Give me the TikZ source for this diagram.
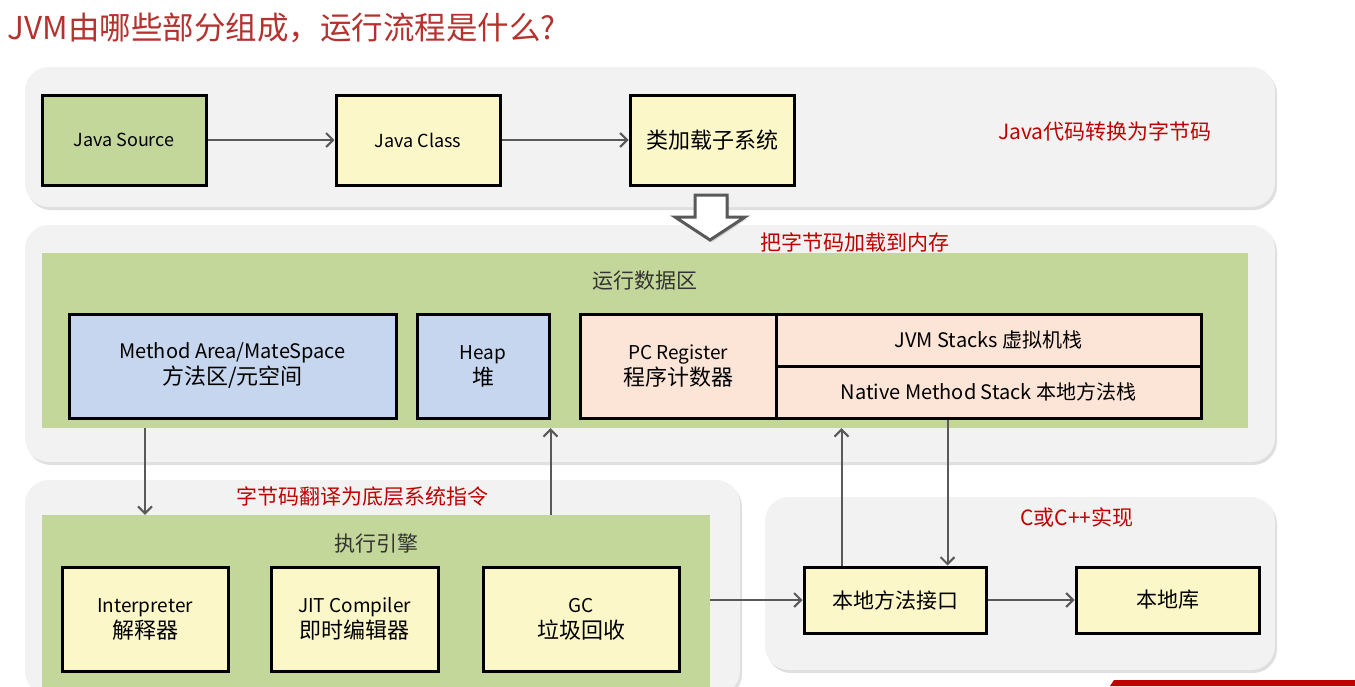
\documentclass[tikz,border=0pt]{standalone}
\usepackage{fontspec}
\setmainfont{Noto Sans CJK SC}
\usetikzlibrary{arrows.meta, positioning, shadows}

\definecolor{titlered}{HTML}{B5322E}
\definecolor{notered}{HTML}{C00000}
\definecolor{panelgray}{HTML}{F2F2F2}
\definecolor{areagreen}{HTML}{C4D79B}
\definecolor{boxyellow}{HTML}{FCF7C8}
\definecolor{boxblue}{HTML}{C6D6EE}
\definecolor{boxpeach}{HTML}{FCE4D6}
\definecolor{linkgray}{HTML}{595959}

% second (Chinese) line of a box
\newcommand{\cnline}[1]{{\fontsize{22}{26}\selectfont #1}}

\begin{document}
\begin{tikzpicture}[
    x=1pt, y=-1pt,
    panel/.style={
        rectangle,
        fill=panelgray,
        rounded corners=24pt,
        inner sep=0pt,
        drop shadow={shadow xshift=2pt, shadow yshift=-3pt, opacity=0.25}
    },
    area/.style={
        rectangle,
        fill=areagreen,
        inner sep=0pt
    },
    unit/.style={
        rectangle,
        draw=black,
        line width=3pt,
        fill=boxyellow,
        inner sep=0pt,
        align=center,
        font=\fontsize{19}{26}\selectfont
    },
    memory/.style={
        unit,
        fill=boxblue,
        minimum height=104pt
    },
    link/.style={
        -{Straight Barb[length=7pt, width=14pt]},
        line width=2pt,
        draw=linkgray
    },
    note/.style={
        text=notered,
        font=\fontsize{21}{24}\selectfont
    },
    caption/.style={
        text=black!80,
        font=\fontsize{21}{24}\selectfont
    }
]
    \clip (0,0) rectangle (1355,686);
    \useasboundingbox[fill=white] (0,0) rectangle (1355,686);

    % TITLE
    \node[anchor=west, text=titlered, font=\fontsize{31.5}{34}\selectfont] (title) at (4,28)
        {JVM由哪些部分组成，运行流程是什么?};

    % PANELS
    \node[panel, minimum width=1250pt, minimum height=140pt] (compile) at (650,137) {};
    \node[panel, minimum width=1250pt, minimum height=237pt] (load) at (650,343.5) {};
    \node[panel, minimum width=715pt, minimum height=215pt] (exec) at (382.5,587.5) {};
    \node[panel, minimum width=510pt, minimum height=173pt] (native) at (1020,583.5) {};

    % SOURCE TO BYTECODE (top row)
    \node[unit, fill=areagreen, minimum width=164pt, minimum height=90pt, font=\fontsize{18}{22}\selectfont]
        (src) at (124,140) {Java Source};
    \node[unit, minimum width=164pt, minimum height=90pt, font=\fontsize{18}{22}\selectfont]
        (cls) [right=127pt of src] {Java Class};
    \node[unit, minimum width=164pt, minimum height=90pt, font=\fontsize{22}{26}\selectfont]
        (loader) [right=127pt of cls] {类加载子系统};
    \node[note] (tobyte) at (1105,131) {Java代码转换为字节码};

    % LOAD INTO MEMORY (hollow arrow)
    \draw[draw=linkgray, line width=3pt, fill=white, line join=miter,
        drop shadow={shadow xshift=2pt, shadow yshift=-2pt, opacity=0.3}]
        (695,195) -- (727,195) -- (727,217) -- (745,217) -- (710,240)
        -- (675,217) -- (695,217) -- cycle;
    \node[note] (tomem) at (855,242) {把字节码加载到内存};

    % RUNTIME DATA AREA
    \node[area, minimum width=1206pt, minimum height=175pt] (runtime) at (645,340.5) {};
    \node[caption] (runtimelabel) at (645,281) {运行数据区};
    \node[memory, minimum width=327pt, font=\fontsize{20}{26}\selectfont] (method) at (232.5,366)
        {Method Area/MateSpace\\\cnline{方法区/元空间}};
    \node[memory, minimum width=132pt] (heap) at (483,366) {Heap\\\cnline{堆}};
    \node[unit, fill=boxpeach, minimum width=196pt, minimum height=104pt] (pc) at (678,366)
        {PC Register\\\cnline{程序计数器}};
    \node[unit, fill=boxpeach, minimum width=425pt, minimum height=52pt, font=\fontsize{20}{24}\selectfont]
        (jvmstack) at (988.5,340) {JVM Stacks 虚拟机栈};
    \node[unit, fill=boxpeach, minimum width=425pt, minimum height=52pt, font=\fontsize{20}{24}\selectfont]
        (nstack) at (988.5,392) {Native Method Stack 本地方法栈};

    % EXECUTION ENGINE
    \node[note] (translate) at (362,497) {字节码翻译为底层系统指令};
    \node[area, minimum width=668pt, minimum height=180pt] (engine) at (376,605) {};
    \node[caption] (enginelabel) at (376,544) {执行引擎};
    \node[unit, minimum width=166pt, minimum height=104pt] (interp) at (145,619) {Interpreter\\\cnline{解释器}};
    \node[unit, minimum width=167pt, minimum height=104pt] (jit) at (354.5,619) {JIT Compiler\\\cnline{即时编辑器}};
    \node[unit, minimum width=196pt, minimum height=104pt] (gc) at (581,619) {GC\\\cnline{垃圾回收}};

    % NATIVE SIDE
    \node[note] (cimpl) at (1077,517) {C或C++实现};
    \node[unit, minimum width=182pt, minimum height=66pt, font=\fontsize{21}{24}\selectfont]
        (jni) at (895,600) {本地方法接口};
    \node[unit, minimum width=183pt, minimum height=66pt, font=\fontsize{21}{24}\selectfont]
        (lib) [right=87pt of jni] {本地库};

    % LINKS
    \draw[link] (src) -- (cls);
    \draw[link] (cls) -- (loader);
    \draw[link] (runtime.south -| interp) -- (engine.north -| interp);
    \draw[link] (engine.north -| heap.east) -- (runtime.south -| heap.east);
    \draw[link] ([xshift=39pt]jni.north west) -- ([xshift=39pt]jni.north west |- runtime.south);
    \draw[link] ([xshift=-40pt]jni.north east |- nstack.south) -- ([xshift=-40pt]jni.north east);
    \draw[link] (engine.east |- jni) -- (jni);
    \draw[link] (jni) -- (lib);

    % slide footer bar
    \fill[notered] (1114,680) -- (1355,680) -- (1355,686) -- (1110,686) -- cycle;
\end{tikzpicture}
\end{document}
